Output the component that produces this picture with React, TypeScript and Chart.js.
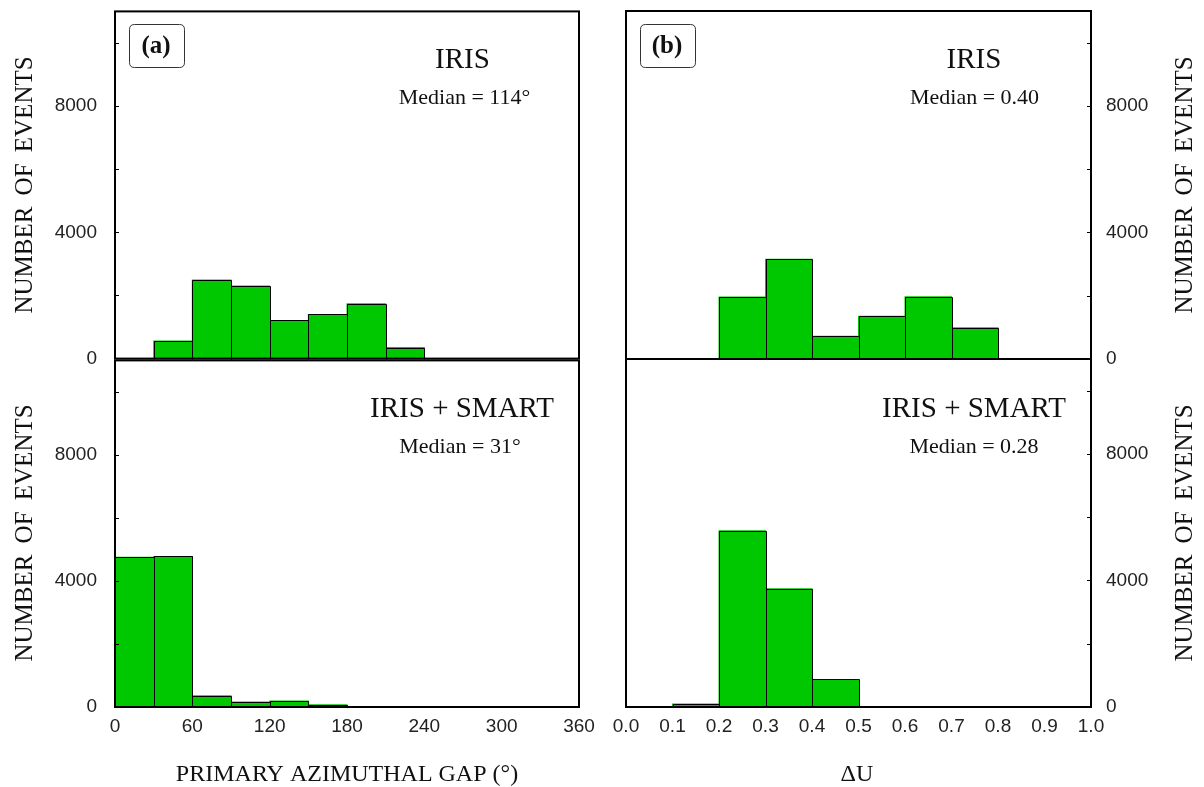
import React, { useEffect, useRef } from 'react';
import { Chart, registerables } from 'chart.js';

Chart.register(...registerables);

// ---- data ----
const gapBinCenters = [15, 45, 75, 105, 135, 165, 195, 225, 255, 285, 315, 345];
const gapIris = [0, 560, 2490, 2300, 1210, 1400, 1740, 350, 0, 0, 0, 0];
const gapIrisSmart = [4750, 4780, 360, 160, 190, 75, 0, 0, 0, 0, 0, 0];
const gapTickValues = [0, 60, 120, 180, 240, 300, 360];

const duBinCenters = [0.05, 0.15, 0.25, 0.35, 0.45, 0.55, 0.65, 0.75, 0.85, 0.95];
const duIris = [0, 0, 1960, 3150, 720, 1350, 1970, 990, 15, 0];
const duIrisSmart = [0, 95, 5570, 3740, 870, 0, 0, 0, 0, 0];
const duTickValues = [0, 0.1, 0.2, 0.3, 0.4, 0.5, 0.6, 0.7, 0.8, 0.9, 1.0];

const countTickLabels = [0, 4000, 8000];
const countMinorTicks = [2000, 4000, 6000, 8000, 10000];
const countMax = 11000;

const SERIF = '"Liberation Serif", "Times New Roman", serif';
const BAR_FILL = '#00c800';

type TextItem = { t: string; x: number; y: number; font: string };
type Panel = {
  left: number; top: number; width: number; height: number;
  centers: number[]; values: number[];
  xMin: number; xMax: number; xTicks: number[]; xDecimals: number;
  showX: boolean; side: 'left' | 'right';
  padding: { left: number; top: number; right: number; bottom: number };
  yAxisWidth: number;
  texts: TextItem[];
  box?: { x: number; y: number; w: number; h: number; label: string; lx: number; ly: number };
  yTitle: { x: number; y: number };
};

const panels: Panel[] = [
  {
    left: 0, top: -10, width: 602, height: 390,
    centers: gapBinCenters, values: gapIris,
    xMin: 0, xMax: 360, xTicks: gapTickValues, xDecimals: 0,
    showX: false, side: 'left',
    padding: { left: 0, top: 21, right: 23, bottom: 21 }, yAxisWidth: 115,
    texts: [
      { t: 'IRIS', x: 462.5, y: 68, font: `29px ${SERIF}` },
      { t: 'Median = 114°', x: 464.5, y: 104, font: `22px ${SERIF}` },
    ],
    box: { x: 129.5, y: 24.5, w: 55, h: 43, label: '(a)', lx: 156, ly: 53 },
    yTitle: { x: 32, y: 185 },
  },
  {
    left: 0, top: 339, width: 602, height: 448,
    centers: gapBinCenters, values: gapIrisSmart,
    xMin: 0, xMax: 360, xTicks: gapTickValues, xDecimals: 0,
    showX: true, side: 'left',
    padding: { left: 0, top: 20, right: 23, bottom: 0 }, yAxisWidth: 115,
    texts: [
      { t: 'IRIS + SMART', x: 462, y: 417, font: `29px ${SERIF}` },
      { t: 'Median = 31°', x: 460, y: 453, font: `22px ${SERIF}` },
      { t: 'PRIMARY AZIMUTHAL GAP (°)', x: 347, y: 781, font: `24px ${SERIF}` },
    ],
    yTitle: { x: 32, y: 533 },
  },
  {
    left: 602, top: -10, width: 602, height: 390,
    centers: duBinCenters, values: duIris,
    xMin: 0, xMax: 1, xTicks: duTickValues, xDecimals: 1,
    showX: false, side: 'right',
    padding: { left: 24, top: 21, right: 0, bottom: 21 }, yAxisWidth: 113,
    texts: [
      { t: 'IRIS', x: 974, y: 68, font: `29px ${SERIF}` },
      { t: 'Median = 0.40', x: 974.5, y: 104, font: `22px ${SERIF}` },
    ],
    box: { x: 640.5, y: 24.5, w: 55, h: 43, label: '(b)', lx: 667, ly: 53 },
    yTitle: { x: 1192, y: 185 },
  },
  {
    left: 602, top: 339, width: 602, height: 448,
    centers: duBinCenters, values: duIrisSmart,
    xMin: 0, xMax: 1, xTicks: duTickValues, xDecimals: 1,
    showX: true, side: 'right',
    padding: { left: 24, top: 20, right: 0, bottom: 0 }, yAxisWidth: 113,
    texts: [
      { t: 'IRIS + SMART', x: 974, y: 417, font: `29px ${SERIF}` },
      { t: 'Median = 0.28', x: 974, y: 453, font: `22px ${SERIF}` },
      { t: 'ΔU', x: 857, y: 781, font: `24px ${SERIF}` },
    ],
    yTitle: { x: 1192, y: 533 },
  },
];

function roundRect(ctx: CanvasRenderingContext2D, x: number, y: number, w: number, h: number, r: number) {
  ctx.beginPath();
  ctx.moveTo(x + r, y);
  ctx.lineTo(x + w - r, y);
  ctx.quadraticCurveTo(x + w, y, x + w, y + r);
  ctx.lineTo(x + w, y + h - r);
  ctx.quadraticCurveTo(x + w, y + h, x + w - r, y + h);
  ctx.lineTo(x + r, y + h);
  ctx.quadraticCurveTo(x, y + h, x, y + h - r);
  ctx.lineTo(x, y + r);
  ctx.quadraticCurveTo(x, y, x + r, y);
  ctx.closePath();
}

function makeDecor(p: Panel) {
  return {
    id: 'panelDecor',
    afterDatasetsDraw(chart: any) {
      const ctx: CanvasRenderingContext2D = chart.ctx;
      const a = chart.chartArea;
      ctx.save();
      // crisp bar outlines, taken from the library's bar elements
      const meta = chart.getDatasetMeta(0);
      ctx.strokeStyle = '#000';
      ctx.lineWidth = 1;
      ctx.beginPath();
      meta.data.forEach((el: any, i: number) => {
        if (!(p.values[i] > 0)) return;
        const { x, y, base, width } = el.getProps(['x', 'y', 'base', 'width'], true);
        const l = Math.round(x - width / 2) + 0.5;
        const r = Math.round(x + width / 2) + 0.5;
        const t = Math.round(y) + 0.5;
        const b = Math.round(base) + 0.5;
        ctx.moveTo(l, b);
        ctx.lineTo(l, t);
        ctx.lineTo(r, t);
        ctx.lineTo(r, b);
      });
      ctx.stroke();
      // frame
      ctx.lineWidth = 2;
      ctx.strokeRect(a.left, a.top, a.right - a.left, a.bottom - a.top);
      // inward minor ticks
      const ys = chart.scales.y;
      ctx.lineWidth = 1;
      ctx.beginPath();
      for (const v of countMinorTicks) {
        const py = Math.round(ys.getPixelForValue(v)) + 0.5;
        if (p.side === 'left') {
          ctx.moveTo(a.left, py);
          ctx.lineTo(a.left + 4, py);
        } else {
          ctx.moveTo(a.right, py);
          ctx.lineTo(a.right - 4, py);
        }
      }
      ctx.stroke();
      ctx.restore();
    },
    afterDraw(chart: any) {
      const ctx: CanvasRenderingContext2D = chart.ctx;
      const ox = p.left;
      const oy = p.top;
      ctx.save();
      ctx.fillStyle = '#111';
      ctx.textAlign = 'center';
      ctx.textBaseline = 'alphabetic';
      for (const it of p.texts) {
        ctx.font = it.font;
        ctx.fillText(it.t, it.x - ox, it.y - oy);
      }
      if (p.box) {
        const b = p.box;
        ctx.strokeStyle = '#333';
        ctx.lineWidth = 1;
        roundRect(ctx, b.x - ox, b.y - oy, b.w, b.h, 5);
        ctx.stroke();
        ctx.font = `bold 25px ${SERIF}`;
        ctx.fillText(b.label, b.lx - ox, b.ly - oy);
      }
      ctx.save();
      ctx.translate(p.yTitle.x - ox, p.yTitle.y - oy);
      ctx.rotate(-Math.PI / 2);
      ctx.font = `25px ${SERIF}`;
      (ctx as any).wordSpacing = '5px';
      ctx.fillText('NUMBER OF EVENTS', 0, 0);
      ctx.restore();
      ctx.restore();
    },
  };
}

function buildChart(canvas: HTMLCanvasElement, p: Panel) {
  const data = p.centers.map((c, i) => ({ x: c, y: p.values[i] }));
  return new Chart(canvas, {
    type: 'bar',
    data: {
      datasets: [
        {
          data: data as any,
          backgroundColor: BAR_FILL,
          borderWidth: 0,
          inflateAmount: 0.5,
          barPercentage: 1,
          categoryPercentage: 1,
        } as any,
      ],
    },
    options: {
      animation: false,
      responsive: false,
      devicePixelRatio: 1,
      layout: { padding: p.padding },
      plugins: { legend: { display: false }, tooltip: { enabled: false } },
      events: [],
      scales: {
        x: {
          type: 'linear',
          offset: false,
          min: p.xMin,
          max: p.xMax,
          display: p.showX,
          grid: { display: false, offset: false },
          border: { display: false },
          afterBuildTicks: (s: any) => {
            s.ticks = p.xTicks.map((v) => ({ value: v }));
          },
          afterFit: (s: any) => {
            if (p.showX) s.height = 80;
          },
          ticks: {
            autoSkip: false,
            maxRotation: 0,
            minRotation: 0,
            padding: 0,
            color: '#222',
            font: { family: '"Liberation Sans", Arial, sans-serif', size: 19 },
            callback: (v: any) => Number(v).toFixed(p.xDecimals),
          },
        },
        y: {
          type: 'linear',
          position: p.side,
          min: 0,
          max: countMax,
          grid: { display: false },
          border: { display: false },
          afterBuildTicks: (s: any) => {
            s.ticks = countTickLabels.map((v) => ({ value: v }));
          },
          afterFit: (s: any) => {
            s.width = p.yAxisWidth;
          },
          ticks: {
            padding: p.side === 'left' ? 10 : 7,
            color: '#222',
            font: { family: '"Liberation Sans", Arial, sans-serif', size: 19 },
            callback: (v: any) => String(v),
          },
        },
      } as any,
    },
    plugins: [makeDecor(p)],
  });
}

export default function App() {
  const refs = [useRef<HTMLCanvasElement>(null), useRef<HTMLCanvasElement>(null), useRef<HTMLCanvasElement>(null), useRef<HTMLCanvasElement>(null)];

  useEffect(() => {
    const charts: Chart[] = [];
    panels.forEach((p, i) => {
      const c = refs[i].current;
      if (c) charts.push(buildChart(c, p));
    });
    return () => {
      charts.forEach((ch) => ch.destroy());
    };
  }, []);

  return (
    <div
      style={{
        position: 'absolute',
        left: 0,
        top: 0,
        width: 1204,
        height: 787,
        overflow: 'hidden',
        background: '#fff',
      }}
    >
      {panels.map((p, i) => (
        <canvas
          key={i}
          ref={refs[i]}
          width={p.width}
          height={p.height}
          style={{ position: 'absolute', left: p.left, top: p.top, width: p.width, height: p.height }}
        />
      ))}
    </div>
  );
}
